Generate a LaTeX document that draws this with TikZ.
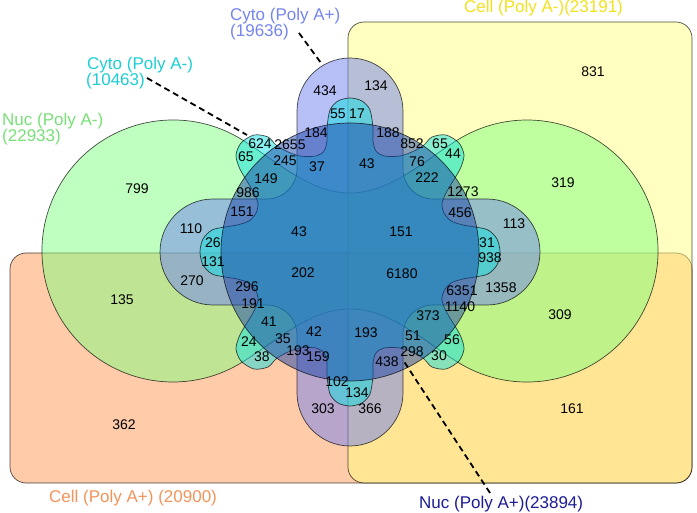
\documentclass[tikz,border=0pt]{standalone}
\usepackage{fontspec}
\setmainfont{Liberation Sans}
\usepackage{tikz}
\usetikzlibrary{positioning}
\definecolor{cellplus}{HTML}{FF9955}
\definecolor{cellminus}{HTML}{FFFF80}
\definecolor{nucminus}{HTML}{80FF80}
\definecolor{cytoplus}{HTML}{7080F0}
\definecolor{cytominus}{HTML}{10E0E0}
\definecolor{nucplus}{HTML}{1A44A8}
\definecolor{cellplustext}{HTML}{F4935A}
\definecolor{cellminustext}{HTML}{F2E21C}
\definecolor{nucminustext}{HTML}{78E078}
\definecolor{cytoplustext}{HTML}{7585EE}
\definecolor{cytominustext}{HTML}{1CCFD4}
\definecolor{nucplustext}{HTML}{1C1C96}
\tikzset{
  setshape/.style={draw=black, draw opacity=0.7, line width=0.7pt, fill=#1, fill opacity=0.5},
  numtext/.style={font=\fontsize{14}{14}\selectfont, text=black, inner sep=0pt},
  settext/.style={font=\fontsize{17}{17}\selectfont, text=#1, anchor=base west, inner sep=0pt},
  leader/.style={black, line width=1.8pt, dash pattern=on 6pt off 4pt}
}

\begin{document}
\begin{tikzpicture}[x=1pt, y=-1pt]
  \useasboundingbox (0,0) rectangle (697,513);
  \fill[white] (0,0) rectangle (697,513);

  % Cell sets: two rounded rectangles
  \draw[setshape=cellplus, rounded corners=16pt] (10,253) rectangle (692,483);
  \draw[setshape=cellminus, rounded corners=16pt] (348,22) rectangle (692,483);

  % Nuc (Poly A-): two big lobes joined by a pinched waist
  \draw[setshape=nucminus] (242.4,139.9) arc[start angle=-58, end angle=-302, radius=131]
    .. controls (276.3,340.9) and (310,309) .. (350,309)
    .. controls (390,309) and (423.7,340.9) .. (457.6,362.1)
    arc[start angle=122, end angle=-122, radius=131]
    .. controls (423.7,161.1) and (390,193) .. (350,193)
    .. controls (310,193) and (276.3,161.1) .. (242.4,139.9) -- cycle;

  % Cyto (Poly A+): cross with four round lobes
  \draw[setshape=cytoplus] (297,111) arc[start angle=180, end angle=360, radius=53]
    -- (403,169) arc[start angle=180, end angle=90, radius=30]
    -- (487,199) arc[start angle=270, end angle=450, radius=53]
    -- (433,305) arc[start angle=270, end angle=180, radius=30]
    -- (403,393) arc[start angle=0, end angle=180, radius=53]
    -- (297,335) arc[start angle=0, end angle=-90, radius=30]
    -- (213,305) arc[start angle=90, end angle=270, radius=53]
    -- (267,199) arc[start angle=90, end angle=0, radius=30]
    -- cycle;

  % Cyto (Poly A-): eight small lobes and eight notches
  \draw[setshape=cytominus] plot[smooth cycle, tension=0.5] coordinates {
    (200,252) (203,239) (212,230) (225,227) (237,225) (249,221) (256,213) (258,204)
    (255,195) (250,186) (245,178) (239,167) (236,155) (241,143) (254,135) (268,137)
    (276,145) (286,151) (300,156) (316,156) (324,151) (327,141) (327,128) (330,110)
    (338,101) (350,98)
    (362,101) (370,110) (373,128) (373,141) (376,151) (384,156) (400,156) (414,151)
    (424,145) (432,137) (446,135) (459,143) (464,155) (461,167) (455,178) (450,186)
    (445,195) (442,204) (444,213) (451,221) (463,225) (475,227) (488,230) (497,239)
    (500,252)
    (497,265) (488,274) (475,277) (463,279) (451,283) (444,291) (442,300) (445,309)
    (450,318) (455,326) (461,337) (464,349) (459,361) (446,369) (432,367) (424,359)
    (414,353) (400,348) (384,348) (376,353) (373,363) (373,376) (370,394) (362,403)
    (350,406)
    (338,403) (330,394) (327,376) (327,363) (324,353) (316,348) (300,348) (286,353)
    (276,359) (268,367) (254,369) (241,361) (236,349) (239,337) (245,326) (250,318)
    (255,309) (258,300) (256,291) (249,283) (237,279) (225,277) (212,274) (203,265)};

  % Nuc (Poly A+): central disk
  \draw[setshape=nucplus] (350,252) circle[radius=129];

  % Region counts
  \foreach \x/\y/\n [count=\i] in {
    593/72/831, 124/425/362, 572/409/161, 137/189/799, 122/300/135, 563/183/319,
    560/315/309, 325/91/434, 376/86/134, 323/409/303, 370/409/366, 191/229/110,
    192/281/270, 514/224/113, 501/288/1358, 213/243/26, 213/262/131, 487/243/31,
    490/258/938, 338/114/55, 357/114/17, 337/382/102, 357/393/134, 260/144/624,
    290/145/2655, 246/157/65, 316/133/184, 285/161/245, 317/167/37, 367/164/43,
    388/133/188, 412/144/852, 440/144/65, 453/154/44, 417/162/76, 427/178/222,
    463/192/1273, 460/213/456, 266/179/149, 248/193/986, 242/212/151, 299/232/43,
    401/232/151, 303/273/202, 402/274/6180, 247/287/296, 253/304/191, 269/322/41,
    249/342/24, 283/339/35, 262/357/38, 298/351/193, 318/357/159, 314/332/42,
    366/333/193, 413/336/51, 412/352/298, 387/362/438, 428/316/373, 460/307/1140,
    462/291/6351, 452/340/56, 439/356/30}
    \node[numtext] (count\i) at (\x,\y) {\n};

  % Set names
  \node[settext=cytoplustext] (cytoplusname) at (230,21) {Cyto (Poly A+)};
  \node[settext=cytoplustext] (cytoplusnum) at (230,37) {(19636)};
  \node[settext=cellminustext] (cellminusname) at (464,13) {Cell (Poly A-)(23191)};
  \node[settext=cytominustext] (cytominusname) at (87,70) {Cyto (Poly A-)};
  \node[settext=cytominustext] (cytominusnum) at (86,86) {(10463)};
  \node[settext=nucminustext] (nucminusname) at (2,126) {Nuc (Poly A-)};
  \node[settext=nucminustext] (nucminusnum) at (2,142) {(22933)};
  \node[settext=cellplustext] (cellplusname) at (49,502) {Cell (Poly A+) (20900)};
  \node[settext=nucplustext] (nucplusname) at (419,508) {Nuc (Poly A+)(23894)};

  % Leader lines
  \coordinate (cytopluslead) at (299,33);
  \coordinate (cytoplustip) at (321,63);
  \coordinate (cytominuslead) at (147,78);
  \coordinate (cytominustip) at (247,135);
  \coordinate (nucpluslead) at (490,493);
  \coordinate (nucplustip) at (403,360);
  \draw[leader] (cytopluslead) -- (cytoplustip);
  \draw[leader] (cytominuslead) -- (cytominustip);
  \draw[leader] (nucpluslead) -- (nucplustip);
\end{tikzpicture}
\end{document}
